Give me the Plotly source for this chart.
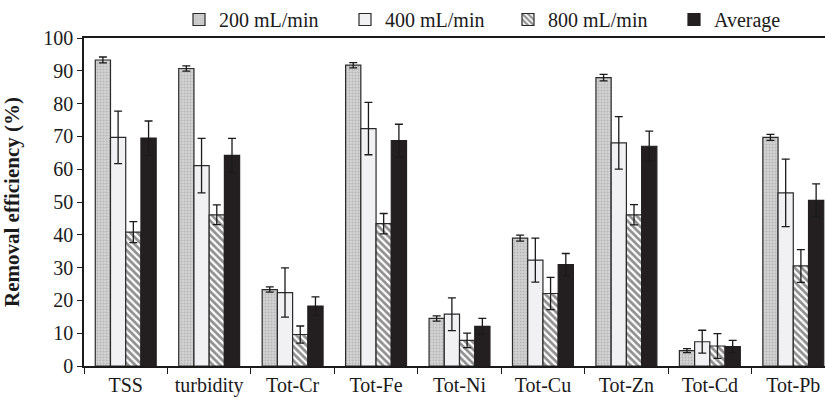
import plotly.graph_objects as go

categories = ["TSS", "turbidity", "Tot-Cr", "Tot-Fe", "Tot-Ni", "Tot-Cu", "Tot-Zn", "Tot-Cd", "Tot-Pb"]

flow200 = [93.3, 90.7, 23.3, 91.7, 14.5, 39.0, 87.9, 4.7, 69.7]
flow200_err = [0.9, 0.8, 0.8, 0.8, 0.8, 0.9, 1.0, 0.6, 0.9]

flow400 = [69.7, 61.1, 22.4, 72.4, 15.8, 32.3, 68.0, 7.4, 52.8]
flow400_err = [8.0, 8.3, 7.5, 8.0, 5.0, 6.7, 8.0, 3.5, 10.3]

flow800 = [40.8, 46.1, 9.6, 43.4, 7.8, 22.1, 46.1, 6.1, 30.5]
flow800_err = [3.2, 3.0, 2.6, 3.1, 2.2, 4.9, 3.1, 3.8, 5.0]

average = [69.5, 64.2, 18.3, 68.7, 12.1, 30.9, 67.0, 5.9, 50.5]
average_err = [5.2, 5.2, 2.8, 5.0, 2.4, 3.4, 4.6, 1.9, 5.0]

series_names = ["200 mL/min", "400 mL/min", "800 mL/min", "Average"]

FONT = "Liberation Serif"
OUTLINE = "#2a2a2a"

def err(vals):
    return dict(type="data", array=vals, visible=True, color="#1a1a1a", thickness=1.3, width=4)

fig = go.Figure()
fig.add_trace(go.Bar(
    name=series_names[0], x=categories, y=flow200, error_y=err(flow200_err), legend="legend",
    marker=dict(color="#c9c9c9", line=dict(color=OUTLINE, width=1.2),
                pattern=dict(shape=".", fgcolor="#9a9a9a", bgcolor="#d2d2d2", size=3, solidity=0.35)),
))
fig.add_trace(go.Bar(
    name=series_names[1], x=categories, y=flow400, error_y=err(flow400_err), legend="legend2",
    marker=dict(color="#f1f1f3", line=dict(color=OUTLINE, width=1.2)),
))
fig.add_trace(go.Bar(
    name=series_names[2], x=categories, y=flow800, error_y=err(flow800_err), legend="legend3",
    marker=dict(color="#ffffff", line=dict(color=OUTLINE, width=1.2),
                pattern=dict(shape="\\", fgcolor="#222222", bgcolor="#ffffff", size=5, solidity=0.55)),
))
fig.add_trace(go.Bar(
    name=series_names[3], x=categories, y=average, error_y=err(average_err), legend="legend4",
    marker=dict(color="#231f20", line=dict(color="#231f20", width=1.2)),
))

PLOT_L, PLOT_W = 84, 741

def legend_at(px):
    return dict(
        orientation="h", x=(px - PLOT_L) / PLOT_W, xanchor="left", y=1.058, yanchor="middle",
        font=dict(family=FONT, size=20, color="#1a1a1a"), itemwidth=30,
        bgcolor="rgba(0,0,0,0)", borderwidth=0,
    )

fig.update_layout(
    width=825, height=397,
    margin=dict(l=PLOT_L, r=0, t=37, b=31),
    paper_bgcolor="white", plot_bgcolor="white",
    barmode="group", bargap=0.27, bargroupgap=0.0,
    font=dict(family=FONT, size=20, color="#1a1a1a"),
    showlegend=True,
    legend=legend_at(179),
    legend2=legend_at(345),
    legend3=legend_at(508),
    legend4=legend_at(674),
)

fig.update_xaxes(
    range=[-0.5, 8.38], showgrid=False, zeroline=False,
    showline=True, linecolor="#1a1a1a", linewidth=1.5, mirror=True,
    ticks="outside", tickson="boundaries", ticklen=6, tickwidth=1.3, tickcolor="#1a1a1a",
    tickfont=dict(family=FONT, size=20, color="#1a1a1a"),
)
fig.update_yaxes(
    range=[0, 100], dtick=10, showgrid=False, zeroline=False,
    showline=True, linecolor="#1a1a1a", linewidth=1.5,
    ticks="outside", ticklen=5, tickwidth=1.3, tickcolor="#1a1a1a",
    tickfont=dict(family=FONT, size=20, color="#1a1a1a"),
    title=dict(text="<b>Removal efficiency (%)</b>", font=dict(family=FONT, size=21, color="#1a1a1a"), standoff=28),
)

fig.write_html("out.html")
